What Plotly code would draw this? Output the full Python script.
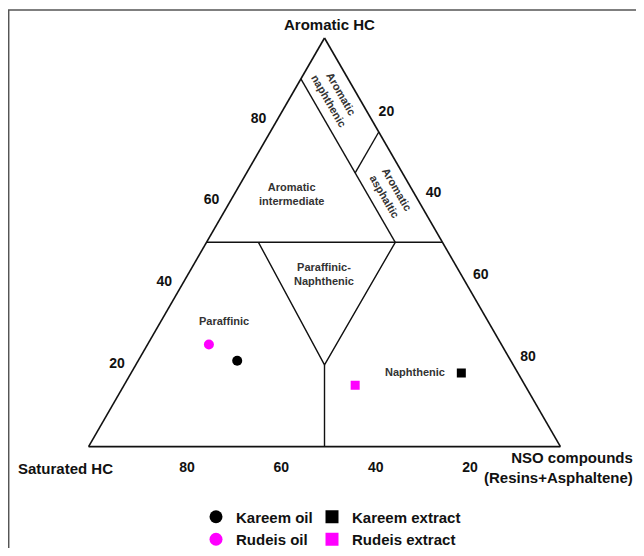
import plotly.graph_objects as go

# ---- data (ternary components: a = Aromatic HC, b = Saturated HC, c = NSO compounds) ----
sample_names = ["Kareem oil", "Rudeis oil", "Kareem extract", "Rudeis extract"]
aromatic = [21, 25, 18, 15]
saturated = [58, 62, 12, 36]
nso = [21, 13, 70, 49]
sample_colors = ["#000000", "#ff00ff", "#000000", "#ff00ff"]
sample_symbols = ["circle", "circle", "square", "square"]
sample_legend = ["legend", "legend", "legend2", "legend2"]

tick_values = [20, 40, 60, 80]

# classification boundary lines (aromatic, saturated, nso)
boundary_aro = [[50, 50], [0, 20], [50, 20, 50], [90, 50], [77, 67]]
boundary_sat = [[50, 0], [50, 40], [39, 40, 10], [10, 10], [0, 10]]
boundary_nso = [[0, 50], [50, 40], [11, 40, 40], [0, 40], [23, 23]]

# page body has an 8px margin; figure sized to fit the 644x556 window
OFF = 8
W, H = 644 - 2 * OFF, 556 - 2 * OFF
FONT = "Liberation Sans, Arial, sans-serif"


def px(x):
    """screen x (window pixels) -> paper x"""
    return (x - OFF) / W


def py(y):
    """screen y (window pixels) -> paper y"""
    return 1 - (y - OFF) / H


fig = go.Figure()

for a, b, c in zip(boundary_aro, boundary_sat, boundary_nso):
    fig.add_trace(go.Scatterternary(
        a=a, b=b, c=c, mode="lines",
        line=dict(color="#111111", width=1.4),
        showlegend=False, hoverinfo="skip"))

for name, a, b, c, col, sym, lg in zip(sample_names, aromatic, saturated, nso,
                                       sample_colors, sample_symbols, sample_legend):
    # the sample point on the diagram
    fig.add_trace(go.Scatterternary(
        a=[a], b=[b], c=[c], mode="markers", name=name,
        marker=dict(color=col, symbol=sym, size=10 if sym == "circle" else 9,
                    line=dict(width=0)),
        showlegend=False))
    # legend entry (larger key symbol, as in the reference)
    fig.add_trace(go.Scatterternary(
        a=[None], b=[None], c=[None], mode="markers", name=name,
        marker=dict(color=col, symbol=sym, size=13, line=dict(width=0)),
        legend=lg, hoverinfo="skip"))

axis_common = dict(
    tickvals=tick_values, ticks="outside", ticklen=8,
    tickcolor="rgba(0,0,0,0)", showgrid=False,
    showline=True, linecolor="#111111", linewidth=1.6,
    tickfont=dict(family=FONT, size=14, color="#111111", weight="bold"),
    title=dict(text=""), min=0)

legend_font = dict(family=FONT, size=15, color="#111111", weight="bold")

fig.update_layout(
    width=W, height=H,
    margin=dict(l=0, r=0, t=0, b=0, autoexpand=False),
    paper_bgcolor="white",
    ternary=dict(
        sum=100,
        bgcolor="white",
        domain=dict(x=[px(88.3), px(560.7)], y=[py(446.6), py(38)]),
        aaxis=axis_common, baxis=axis_common, caxis=axis_common),
    legend=dict(x=px(196), y=py(500.5), xanchor="left", yanchor="top",
                font=legend_font, bgcolor="rgba(0,0,0,0)", tracegroupgap=0),
    legend2=dict(x=px(312), y=py(500.5), xanchor="left", yanchor="top",
                 font=legend_font, bgcolor="rgba(0,0,0,0)", tracegroupgap=0),
)

# frame
fig.add_shape(type="rect", xref="paper", yref="paper",
              x0=px(8.7), y0=py(700), x1=px(800), y1=py(10),
              line=dict(color="#555555", width=1.5), fillcolor="rgba(0,0,0,0)")

# axis titles
title_font = dict(family=FONT, size=15, color="#111111", weight="bold")
fig.add_annotation(text="Aromatic HC", x=px(329), y=py(25), xref="paper", yref="paper",
                   showarrow=False, xanchor="center", yanchor="middle", font=title_font)
fig.add_annotation(text="Saturated HC", x=px(66), y=py(468), xref="paper", yref="paper",
                   showarrow=False, xanchor="center", yanchor="middle", font=title_font)
fig.add_annotation(text="NSO compounds<br>(Resins+Asphaltene)", x=px(635), y=py(467),
                   xref="paper", yref="paper", showarrow=False, xanchor="right",
                   yanchor="middle", align="right", font=title_font)

# region labels
regions = [
    ("Aromatic<br>intermediate", 291, 194, 0),
    ("Paraffinic-<br>Naphthenic", 324, 274, 0),
    ("Paraffinic", 224, 321, 0),
    ("Naphthenic", 415, 372, 0),
    ("Aromatic<br>naphthenic", 335, 97, 60),
    ("Aromatic<br>asphaltic", 391, 193, 60),
]
for text, x, y, ang in regions:
    fig.add_annotation(text=text, x=px(x), y=py(y), xref="paper", yref="paper",
                       showarrow=False, xanchor="center", yanchor="middle",
                       textangle=ang,
                       font=dict(family=FONT, size=11, color="#333333", weight="bold"))

fig.write_html("out.html")
